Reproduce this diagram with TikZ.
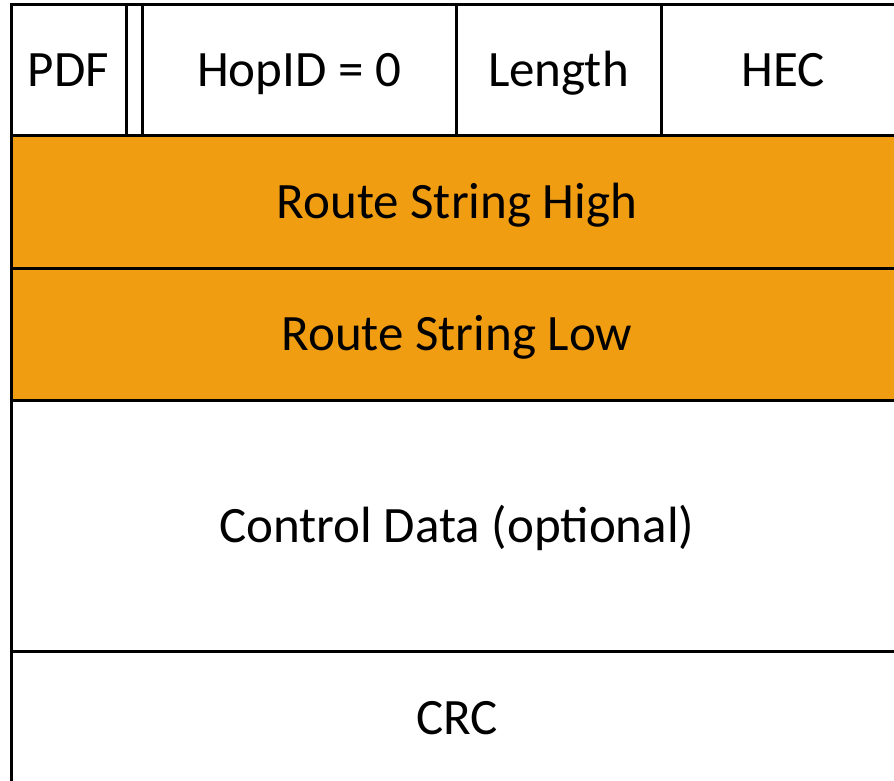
\documentclass[tikz,border=0pt]{standalone}
\usepackage{fontspec}
\setmainfont{Carlito}
\definecolor{fieldorange}{RGB}{241,157,18}
\begin{document}
\begin{tikzpicture}[x=1pt,y=-1pt,
  cellline/.style={draw=black, line width=3pt},
  lbl/.style={font=\fontsize{51}{60}\selectfont, inner sep=0pt,
              text height=33pt, text depth=0pt, anchor=center}]
\useasboundingbox (0,0) rectangle (894,781);
% frame corners (the frame runs past the right and bottom edges)
\coordinate (tl) at (11,5);
\coordinate (br) at (906,784);
\begin{scope}
  \clip (0,0) rectangle (894,781);
  % route string rows
  \fill[fieldorange] (11,136) rectangle (906,400);
  % outer frame
  \draw[cellline] (tl) rectangle (br);
  % row separators
  \foreach \y in {136,268,400,651}
    \draw[cellline] (11,\y) -- (906,\y);
  % header field separators
  \foreach \x in {126,142,456,661}
    \draw[cellline] (\x,5) -- (\x,136);
\end{scope}
% field labels
\node[lbl] (pdf)    at (68.5,70.5)  {PDF};
\node[lbl] (hopid)  at (299,70.5)   {HopID = 0};
\node[lbl] (length) at (558.5,70.5) {Length};
\node[lbl] (hec)    at (783.5,70.5) {HEC};
\node[lbl] (rsh)    at (457,202)    {Route String High};
\node[lbl] (rsl)    at (457,334)    {Route String Low};
\node[lbl] (ctrl)   at (457,525.5)  {Control Data (optional)};
\node[lbl] (crc)    at (457,717.5)  {CRC};
\end{tikzpicture}
\end{document}
